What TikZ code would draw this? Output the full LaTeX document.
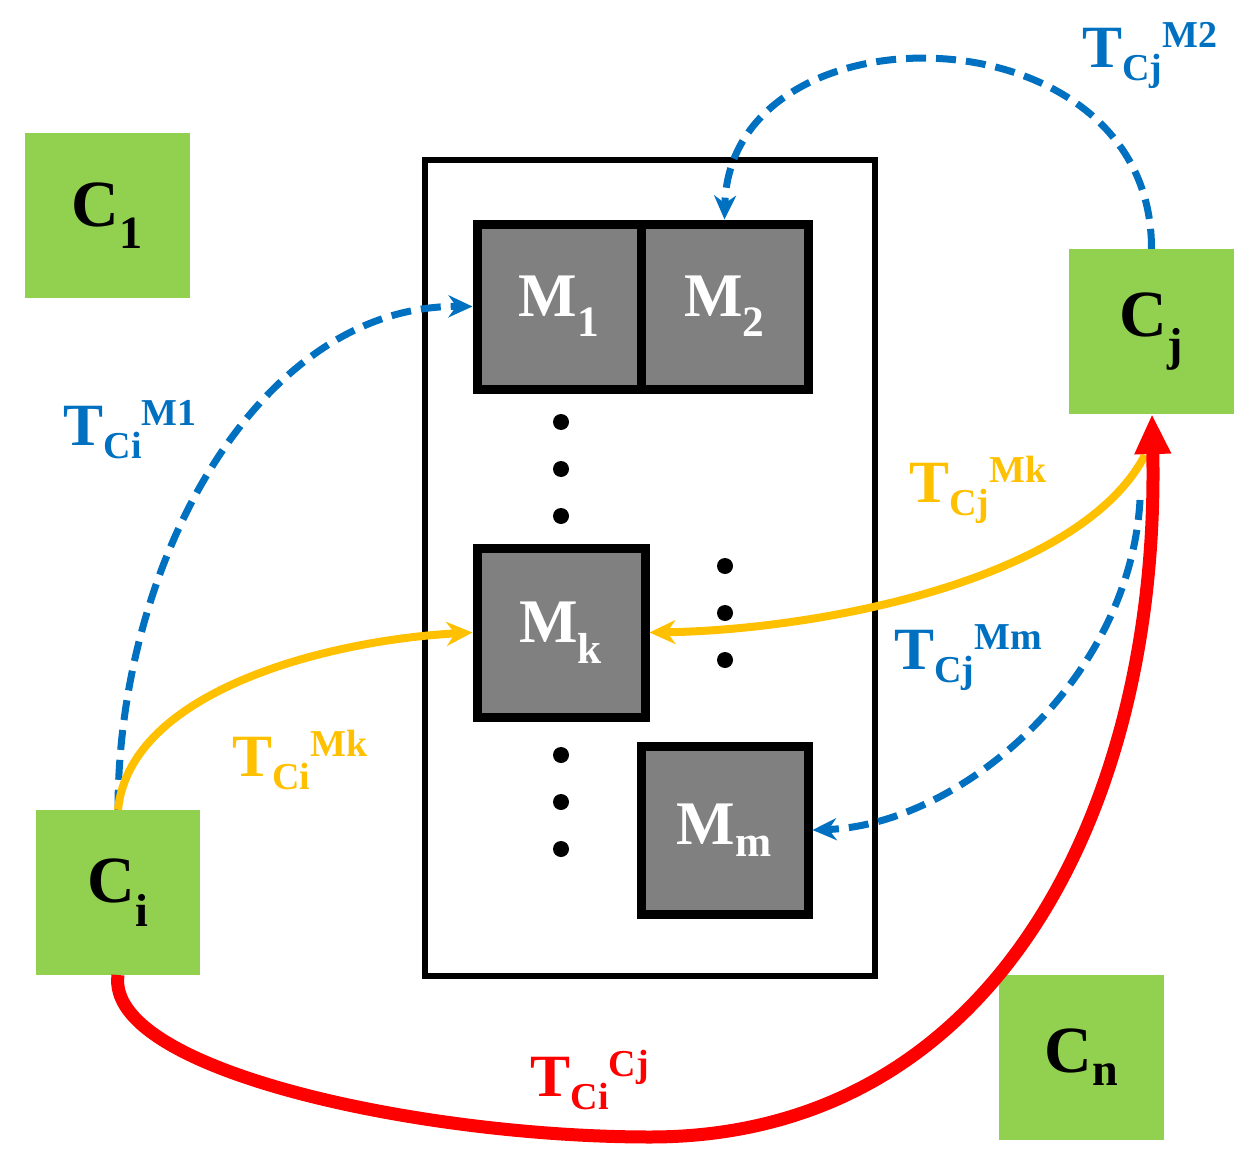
\documentclass[tikz,border=0pt]{standalone}
\usepackage{fontspec}
\setmainfont{Liberation Serif}
\usetikzlibrary{arrows.meta}
\definecolor{cg}{HTML}{92D050}
\definecolor{cb}{HTML}{0070C0}
\definecolor{cy}{HTML}{FFC000}
\definecolor{cr}{HTML}{FF0000}
\newcommand\tlab[2]{T\raisebox{-13pt}{\fontsize{38}{38}\selectfont #1}\raisebox{20pt}{\fontsize{38}{38}\selectfont #2}}
\begin{document}
\begin{tikzpicture}[x=1pt,y=-1pt,
 cnode/.style={fill=cg,minimum width=165pt,minimum height=165pt,inner sep=0,font=\fontsize{66}{66}\selectfont\bfseries},
 mnode/.style={fill=black!50,draw=black,line width=9pt,inner sep=0,text=white,font=\fontsize{62}{62}\selectfont\bfseries},
 dot/.style={circle,fill=black,inner sep=0,minimum size=16pt},
 bl/.style={cb,line width=7pt,dash pattern=on 20pt off 10pt,-{Stealth[length=24pt,width=22pt]}},
 ye/.style={cy,line width=8pt,-{Stealth[length=26pt,width=24pt]}},
 lab/.style={font=\fontsize{60}{60}\selectfont\bfseries,inner sep=0}]
\useasboundingbox (0,0) rectangle (1254,1172);
\node[cnode] (c1) at (107.5,215.5) {C\textsubscript{1}};
\node[cnode,minimum width=164pt] (ci) at (118,892.5) {C\textsubscript{i}};
\node[cnode] (cj) at (1151.5,331.5) {C\textsubscript{j}};
\node[cnode] (cn) at (1081.5,1057.5) {C\textsubscript{n}};
\node[draw=black,line width=6.5pt,minimum width=450pt,minimum height=816pt,inner sep=0] (box) at (650,568) {};
\node[mnode,minimum width=164pt,minimum height=165pt] (m1) at (559,306.5) {M\textsubscript{1}};
\node[mnode,minimum width=167pt,minimum height=165pt] (m2) at (724.5,306.5) {M\textsubscript{2}};
\node[mnode,minimum width=168pt,minimum height=169pt] (mk) at (561,632.5) {M\textsubscript{k}};
\node[mnode,minimum width=167pt,minimum height=168pt] (mm) at (724.5,830) {M\textsubscript{m}};
\foreach \i/\x/\y in {1/561/422,2/561/469,3/561/516,4/561/755,5/561/802,6/561/849,7/725/566,8/725/613,9/725/660}
  \node[dot] (d\i) at (\x,\y) {};
\coordinate (cib) at (118,975);
\coordinate (cjb) at (1152,414);
\draw[bl] (ci.north) .. controls (118,560) and (260,305) .. (m1.west);
\draw[bl] (cj.north) .. controls (1152,5) and (730,0) .. (m2.north);
\draw[bl] (1140,500) .. controls (1130,680) and (960,825) .. (mm.east);
\draw[ye] (ci.north) .. controls (130,690) and (330,640) .. (mk.west);
\draw[ye] (1145,455) .. controls (1080,580) and (820,630) .. (mk.east);
\draw[cr,line width=13pt,-{Triangle[length=40pt,width=34pt]}] (cib) .. controls (105,1070) and (420,1137) .. (650,1137) .. controls (1000,1137) and (1160,800) .. (cjb);
\node[lab,text=cb] (l1) at (130,430) {\tlab{Ci}{M1}};
\node[lab,text=cb] (l2) at (1150,55) {\tlab{Cj}{M2}};
\node[lab,text=cy] (l3) at (978,490) {\tlab{Cj}{Mk}};
\node[lab,text=cb] (l4) at (968,658) {\tlab{Cj}{Mm}};
\node[lab,text=cy] (l5) at (300,760) {\tlab{Ci}{Mk}};
\node[lab,text=cr] (l6) at (590,1080) {\tlab{Ci}{Cj}};
\end{tikzpicture}
\end{document}
